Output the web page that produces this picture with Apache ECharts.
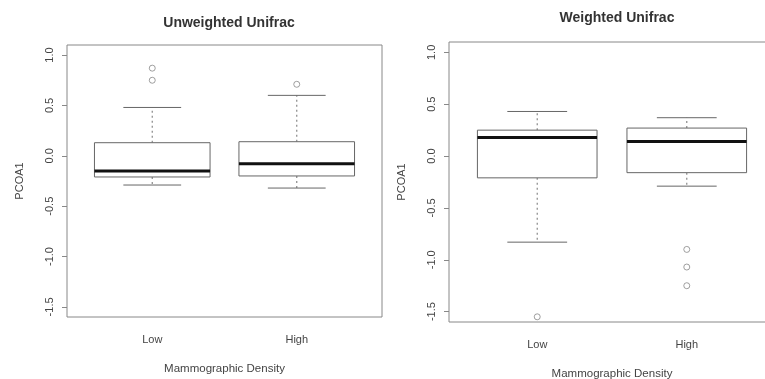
<!DOCTYPE html>
<html>
<head>
<meta charset="utf-8">
<script src="https://cdn.jsdelivr.net/npm/echarts@6/dist/echarts.min.js"></script>
<style>
  html, body { margin: 0; padding: 0; background: #fff; }
  #main { width: 765px; height: 379px; }
</style>
</head>
<body>
<div id="main"></div>
<script>
// groups on the x axis
var categories = ['Low', 'High'];
var yTicks = [-1.5, -1.0, -0.5, 0.0, 0.5, 1.0];

// [lower whisker, Q1, median, Q3, upper whisker]
var unweightedStats = [
    [-0.29, -0.21, -0.15, 0.13, 0.48],
    [-0.32, -0.20, -0.08, 0.14, 0.60]
];
var unweightedOutliers = [
    [0.87, 0.75],
    [0.71]
];

var weightedStats = [
    [-0.83, -0.21, 0.18, 0.25, 0.43],
    [-0.29, -0.16, 0.14, 0.27, 0.37]
];
var weightedOutliers = [
    [-1.55],
    [-0.90, -1.07, -1.25]
];

var font = 'Liberation Sans, Arial, sans-serif';

function boxData(stats) {
    return stats.map(function (s, i) { return [i + 1].concat(s); });
}
function outlierData(outs) {
    var res = [];
    outs.forEach(function (list, i) {
        list.forEach(function (v) { res.push([i + 1, v]); });
    });
    return res;
}

// R style box: dashed whiskers, half-width caps, thick median
function renderBox(params, api) {
    var x = api.value(0);
    var lo = api.value(1), q1 = api.value(2), med = api.value(3), q3 = api.value(4), hi = api.value(5);
    var hw = 0.4, cw = 0.2;
    var pL = api.coord([x - hw, q3]);
    var pR = api.coord([x + hw, q1]);
    var c = api.coord([x, med]);
    var pLo = api.coord([x, lo]), pHi = api.coord([x, hi]);
    var pQ1 = api.coord([x, q1]), pQ3 = api.coord([x, q3]);
    var cL = api.coord([x - cw, 0])[0], cR = api.coord([x + cw, 0])[0];
    var gray = '#666';
    return {
        type: 'group',
        children: [
            { type: 'line', shape: { x1: c[0], y1: pQ3[1], x2: c[0], y2: pHi[1] },
              style: { stroke: '#888', lineWidth: 1.2, lineDash: [2, 3] } },
            { type: 'line', shape: { x1: c[0], y1: pQ1[1], x2: c[0], y2: pLo[1] },
              style: { stroke: '#888', lineWidth: 1.2, lineDash: [2, 3] } },
            { type: 'line', shape: { x1: cL, y1: pHi[1], x2: cR, y2: pHi[1] },
              style: { stroke: gray, lineWidth: 1 } },
            { type: 'line', shape: { x1: cL, y1: pLo[1], x2: cR, y2: pLo[1] },
              style: { stroke: gray, lineWidth: 1 } },
            { type: 'rect', shape: { x: pL[0], y: pL[1], width: pR[0] - pL[0], height: pR[1] - pL[1] },
              style: { fill: '#fff', stroke: gray, lineWidth: 1 } },
            { type: 'line', shape: { x1: pL[0], y1: c[1], x2: pR[0], y2: c[1] },
              style: { stroke: '#111', lineWidth: 3 } }
        ]
    };
}

function xAxis(idx) {
    return {
        type: 'value', gridIndex: idx, min: 0.41, max: 2.59,
        name: 'Mammographic Density', nameLocation: 'middle', nameGap: 46,
        nameTextStyle: { fontFamily: font, fontSize: 11.5, color: '#444' },
        splitLine: { show: false },
        axisLine: { show: false },
        axisTick: { show: true, length: 5, customValues: [1, 2], lineStyle: { color: '#888' } },
        axisLabel: {
            customValues: [1, 2], margin: 17,
            fontFamily: font, fontSize: 11, color: '#444',
            formatter: function (v) { return categories[Math.round(v) - 1]; }
        }
    };
}
function yAxis(idx) {
    return {
        type: 'value', gridIndex: idx, min: -1.6, max: 1.1,
        name: 'PCOA1', nameLocation: 'middle', nameGap: 42,
        nameTextStyle: { fontFamily: font, fontSize: 11, color: '#444' },
        splitLine: { show: false },
        axisLine: { show: false },
        axisTick: { show: true, length: 5, customValues: yTicks, lineStyle: { color: '#888' } },
        axisLabel: {
            customValues: yTicks, rotate: 90, margin: 12,
            fontFamily: font, fontSize: 11, color: '#444',
            formatter: function (v) { return v.toFixed(1); }
        }
    };
}

var myChart = echarts.init(document.getElementById('main'));

option = {
    animation: false,
    backgroundColor: '#fff',
    title: [
        { text: 'Unweighted Unifrac', left: 224, top: 11, textAlign: 'center',
          textStyle: { fontFamily: font, fontSize: 14, fontWeight: 'bold', color: '#333' } },
        { text: 'Weighted Unifrac', left: 612, top: 6, textAlign: 'center',
          textStyle: { fontFamily: font, fontSize: 14, fontWeight: 'bold', color: '#333' } }
    ],
    grid: [
        { left: 67, width: 315, top: 45, bottom: 62, outerBoundsMode: 'none',
          show: true, borderColor: '#888', borderWidth: 1, backgroundColor: 'transparent' },
        { left: 449, width: 326, top: 42, bottom: 57, outerBoundsMode: 'none',
          show: true, borderColor: '#888', borderWidth: 1, backgroundColor: 'transparent' }
    ],
    xAxis: [xAxis(0), xAxis(1)],
    yAxis: [yAxis(0), yAxis(1)],
    series: [
        { type: 'custom', xAxisIndex: 0, yAxisIndex: 0, renderItem: renderBox,
          data: boxData(unweightedStats), encode: { x: 0, y: [1, 2, 3, 4, 5] } },
        { type: 'scatter', xAxisIndex: 0, yAxisIndex: 0, symbol: 'circle', symbolSize: 6,
          itemStyle: { color: '#fff', borderColor: '#888', borderWidth: 1 }, data: outlierData(unweightedOutliers) },
        { type: 'custom', xAxisIndex: 1, yAxisIndex: 1, renderItem: renderBox,
          data: boxData(weightedStats), encode: { x: 0, y: [1, 2, 3, 4, 5] } },
        { type: 'scatter', xAxisIndex: 1, yAxisIndex: 1, symbol: 'circle', symbolSize: 6,
          itemStyle: { color: '#fff', borderColor: '#888', borderWidth: 1 }, data: outlierData(weightedOutliers) }
    ]
};

myChart.setOption(option);
</script>
</body>
</html>
